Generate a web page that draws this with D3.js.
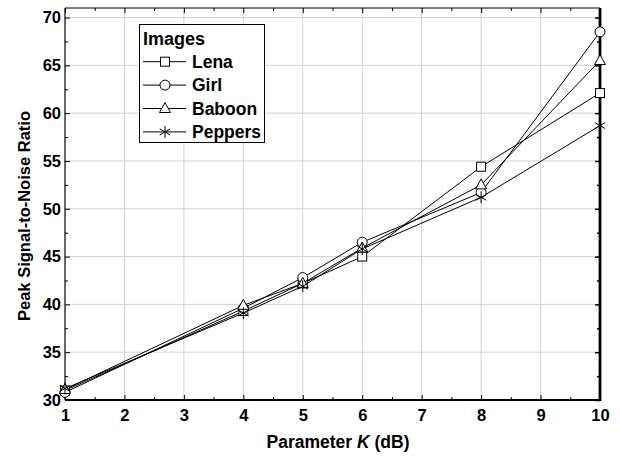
<!DOCTYPE html>
<html><head><meta charset="utf-8">
<script src="https://cdn.jsdelivr.net/npm/d3@7"></script>
<style>body{margin:0;background:#fff}svg{display:block}text{font-family:"Liberation Sans",Arial,sans-serif}</style>
</head><body>
<script>
const kValues = [1, 4, 5, 6, 8, 10];
const lena    = [31.0, 39.3, 42.2, 45.0, 54.4, 62.1];
const girl    = [30.8, 39.6, 42.8, 46.5, 51.7, 68.5];
const baboon  = [31.1, 39.9, 42.2, 45.9, 52.5, 65.5];
const peppers = [31.2, 39.1, 41.9, 45.8, 51.2, 58.7];
const seriesNames = ["Lena", "Girl", "Baboon", "Peppers"];
const seriesSymbols = ["square", "circle", "triangle", "star"];
const xTicks = [1,2,3,4,5,6,7,8,9,10];
const yTicks = [30,35,40,45,50,55,60,65,70];

const W = 620, H = 457;
const m = {l:65, r:20, t:8, b:57};
const svg = d3.select("body").append("svg").attr("width", W).attr("height", H);
const x = d3.scaleLinear().domain([1,10]).range([m.l, W-m.r]);
const y = d3.scaleLinear().domain([30,71]).range([H-m.b, m.t]);

// grid
const g = svg.append("g");
g.selectAll(".gx").data(xTicks.slice(1,-1)).join("line")
  .attr("x1", d=>x(d)).attr("x2", d=>x(d)).attr("y1", y(30)).attr("y2", y(71))
  .attr("stroke", "#d2d2d2").attr("stroke-width", 1);
g.selectAll(".gy").data(yTicks.slice(1)).join("line")
  .attr("y1", d=>y(d)).attr("y2", d=>y(d)).attr("x1", x(1)).attr("x2", x(10))
  .attr("stroke", "#d2d2d2").attr("stroke-width", 1);

// axes
const xb = d3.axisBottom(x).tickValues(xTicks).tickSize(-5).tickPadding(9).tickFormat(d3.format("d"));
const xbm = d3.axisBottom(x).tickValues(d3.range(1.5,10,1)).tickSize(-3).tickFormat("");
const yl = d3.axisLeft(y).tickValues(yTicks).tickSize(-5).tickPadding(4).tickFormat(d3.format("d"));
const ylm = d3.axisLeft(y).tickValues(d3.range(32.5,71,5)).tickSize(-3).tickFormat("");
const xt = d3.axisTop(x).tickValues(xTicks).tickSize(-5).tickFormat("");
const xtm = d3.axisTop(x).tickValues(d3.range(1.5,10,1)).tickSize(-3).tickFormat("");
const yr = d3.axisRight(y).tickValues(yTicks).tickSize(-5).tickFormat("");
const yrm = d3.axisRight(y).tickValues(d3.range(32.5,71,5)).tickSize(-3).tickFormat("");

function styleAx(sel, w){
  sel.select(".domain").remove();
  sel.selectAll("line").attr("stroke","#000").attr("stroke-width", w||1);
  sel.selectAll("text").attr("font-size", 16.5).attr("font-weight","bold").attr("fill","#000");
}
svg.append("g").attr("transform",`translate(0,${y(30)})`).call(xb).call(styleAx);
svg.append("g").attr("transform",`translate(0,${y(30)})`).call(xbm).call(styleAx);
svg.append("g").attr("transform",`translate(${x(1)},0)`).call(yl).call(styleAx);
svg.append("g").attr("transform",`translate(${x(1)},0)`).call(ylm).call(styleAx);
svg.append("g").attr("transform",`translate(0,${y(71)})`).call(xt).call(styleAx);
svg.append("g").attr("transform",`translate(0,${y(71)})`).call(xtm).call(styleAx);
svg.append("g").attr("transform",`translate(${x(10)},0)`).call(yr).call(s=>styleAx(s,1.5));
svg.append("g").attr("transform",`translate(${x(10)},0)`).call(yrm).call(s=>styleAx(s,1.5));

// frame
svg.append("line").attr("x1",x(1)).attr("x2",x(10)).attr("y1",y(71)).attr("y2",y(71)).attr("stroke","#000").attr("stroke-width",1);
svg.append("line").attr("x1",x(1)).attr("x2",x(10)).attr("y1",y(30)).attr("y2",y(30)).attr("stroke","#000").attr("stroke-width",1.8);
svg.append("line").attr("x1",x(1)).attr("x2",x(1)).attr("y1",y(30)).attr("y2",y(71)).attr("stroke","#000").attr("stroke-width",1.2);
svg.append("line").attr("x1",x(10)).attr("x2",x(10)).attr("y1",y(30)+1).attr("y2",y(71)).attr("stroke","#000").attr("stroke-width",2.8);

// axis titles
svg.append("text").attr("x", 338).attr("y", 448).attr("text-anchor","middle")
  .attr("font-size",17.5).attr("font-weight","bold")
  .call(t=>{t.append("tspan").text("Parameter ");t.append("tspan").attr("font-style","italic").text("K");t.append("tspan").text(" (dB)");});
svg.append("text").attr("transform",`translate(30,216) rotate(-90)`).attr("text-anchor","middle")
  .attr("font-size",16.5).attr("font-weight","bold").text("Peak Signal-to-Noise Ratio");

// markers
function drawSym(sel, type, cx, cy){
  const s = sel.append("g").attr("transform",`translate(${cx},${cy})`);
  if(type==="square") s.append("rect").attr("x",-4.5).attr("y",-4.5).attr("width",9).attr("height",9).attr("fill","#fff").attr("stroke","#000");
  else if(type==="circle") s.append("circle").attr("r",5).attr("fill","#fff").attr("stroke","#000");
  else if(type==="triangle") s.append("path").attr("d","M0,-6L5.5,4L-5.5,4Z").attr("fill","#fff").attr("stroke","#000");
  else {
    const r=6;
    s.append("path").attr("d",`M0,${-r}L0,${r}M${-r*0.87},${-r*0.5}L${r*0.87},${r*0.5}M${-r*0.87},${r*0.5}L${r*0.87},${-r*0.5}`)
      .attr("stroke","#000").attr("fill","none");
  }
}
const allSeries = [lena, girl, baboon, peppers];
const line = d3.line().x((d,i)=>x(kValues[i])).y(d=>y(d));
const plot = svg.append("g");
allSeries.forEach((vals,k)=>{
  plot.append("path").attr("d", line(vals)).attr("fill","none").attr("stroke","#000").attr("stroke-width",1);
});
allSeries.forEach((vals,k)=>{
  vals.forEach((v,i)=>drawSym(plot, seriesSymbols[k], x(kValues[i]), y(v)));
});

// legend
const lg = svg.append("g");
lg.append("rect").attr("x",139.5).attr("y",24.5).attr("width",125).attr("height",118).attr("fill","#fff").attr("stroke","#000");
lg.append("text").attr("x",143).attr("y",45).attr("font-size",18).attr("font-weight","bold").text("Images");
seriesNames.forEach((n,k)=>{
  const yy = 61.7 + k*23.4;
  lg.append("line").attr("x1",143).attr("x2",186).attr("y1",yy).attr("y2",yy).attr("stroke","#000");
  drawSym(lg, seriesSymbols[k], 165, yy);
  lg.append("text").attr("x",192).attr("y",yy+6).attr("font-size",17.5).attr("font-weight","bold").text(n);
});
</script>
</body></html>
